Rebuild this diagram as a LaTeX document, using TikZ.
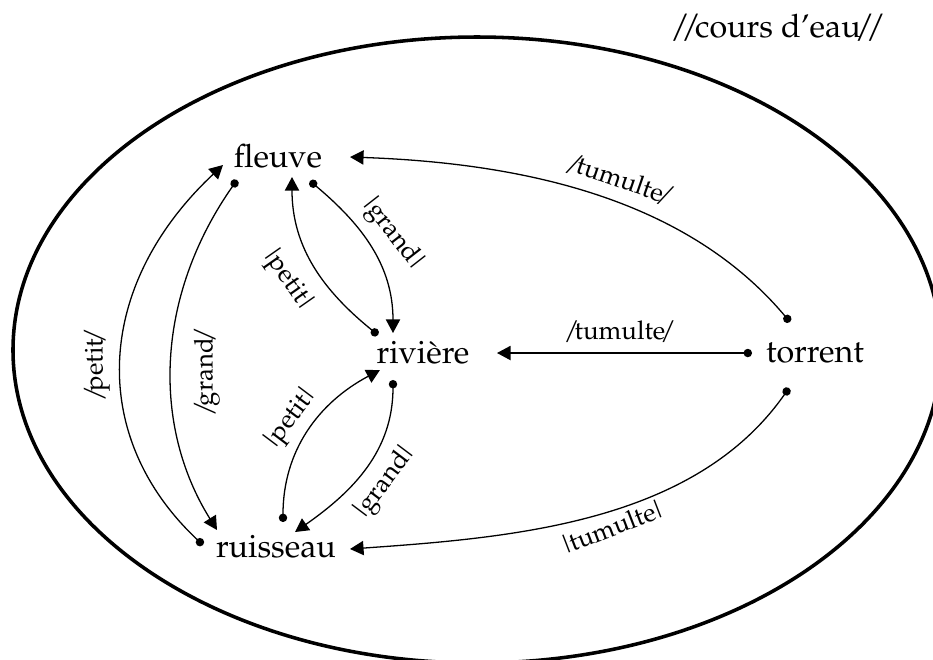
\documentclass[tikz,border=0pt]{standalone}
\usepackage[T1]{fontenc}
\renewcommand{\rmdefault}{ppl}
\usetikzlibrary{arrows.meta}
\newcommand\Sw[1]{/\kern-1.5pt#1\kern-1.5pt/}
\newcommand\Bw[1]{|\kern-1.3pt#1\kern-1.3pt|}
\begin{document}
\begin{tikzpicture}[x=0.31pt,y=0.31pt,
  word/.style={anchor=base,inner sep=0pt,font=\fontsize{10}{12}\selectfont},
  lab/.style={inner sep=0pt,font=\fontsize{8}{10}\selectfont},
  conn/.style={line width=0.4pt,{Circle[length=2.6pt]}-{Triangle[length=4.2pt,width=4.4pt]}}]
\useasboundingbox (0,0) rectangle (933,-659);
\draw[line width=1.1pt] (477,-350) ellipse [x radius=464, y radius=313];
\node[word] (titre) at (778,-37) {/\kern-2.6pt/\kern-1.8pt cours d'eau\kern-1.8pt/\kern-2.6pt/};
\node[word] (fleuve) at (278,-167) {fleuve};
\node[word] (riviere) at (423,-363) {rivi\`ere};
\node[word] (ruisseau) at (276,-557) {ruisseau};
\node[word] (torrent) at (815,-362) {torrent};
% endpoints
\coordinate (fl1) at (310,-181); \coordinate (fl2) at (292,-177);
\coordinate (fl3) at (350,-157); \coordinate (fl4) at (237,-180);
\coordinate (fl5) at (223,-165);
\coordinate (rv1) at (393,-333); \coordinate (rv2) at (378,-335);
\coordinate (rv3) at (497,-353); \coordinate (rv4) at (393,-380);
\coordinate (rv5) at (380,-370);
\coordinate (ru1) at (350,-549); \coordinate (ru2) at (295,-532);
\coordinate (ru3) at (283,-522); \coordinate (ru4) at (217,-530);
\coordinate (ru5) at (203,-545);
\coordinate (to1) at (790,-322); \coordinate (to2) at (752,-353);
\coordinate (to3) at (789,-388);
% connectors
\draw[conn] (fl1) to[out=-40,in=90] (rv1);
\draw[conn] (rv2) to[out=141,in=-90] (fl2);
\draw[conn] (to1) to[out=130,in=-2,looseness=0.9] (fl3);
\draw[conn] (to2) -- (rv3);
\draw[conn] (to3) to[out=235,in=4,looseness=0.9] (ru1);
\draw[conn] (rv4) to[out=-90,in=35] (ru2);
\draw[conn] (ru3) to[out=90,in=208] (rv5);
\draw[conn] (fl4) .. controls (155,-297) and (152,-426) .. (ru4);
\draw[conn] (ru5) .. controls (88,-437) and (94,-286) .. (fl5);
% labels
\node[lab,rotate=-19] (l1) at (620,-180) {\Sw{tumulte}};
\node[lab] (l2) at (620,-332) {\Sw{tumulte}};
\node[lab,rotate=21] (l3) at (612,-527) {\Bw{tumulte}};
\node[lab,rotate=-52] (l4) at (392,-234) {\Bw{grand}};
\node[lab,rotate=-55] (l5) at (287,-280) {\Bw{petit}};
\node[lab,rotate=53] (l6) at (291,-419) {\Bw{petit}};
\node[lab,rotate=53] (l7) at (385,-483) {\Bw{grand}};
\node[lab,rotate=90] (l8) at (97,-365) {\Sw{petit}};
\node[lab,rotate=90] (l9) at (207,-372) {\Sw{grand}};
\end{tikzpicture}
\end{document}
